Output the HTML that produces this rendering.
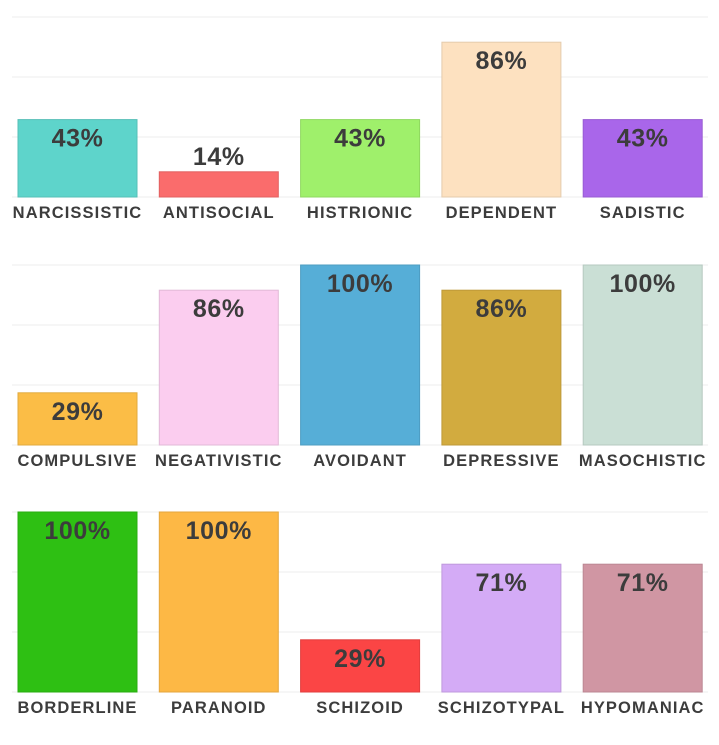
<!DOCTYPE html>
<html><head><meta charset="utf-8"><style>
body{margin:0;background:#fff;width:719px;height:745px;overflow:hidden}
svg{display:block}
</style></head><body>
<svg id="chart" width="719" height="745"></svg>
<script>
const categories=[["NARCISSISTIC","ANTISOCIAL","HISTRIONIC","DEPENDENT","SADISTIC"],["COMPULSIVE","NEGATIVISTIC","AVOIDANT","DEPRESSIVE","MASOCHISTIC"],["BORDERLINE","PARANOID","SCHIZOID","SCHIZOTYPAL","HYPOMANIAC"]];
const values=[[43,14,43,86,43],[29,86,100,86,100],[100,100,29,71,71]];
const colors=[["#5ed4cb","#fa6c6c","#9ff06b","#fde1c0","#a966ea"],["#fbbd46","#fbcdef","#56aed7","#d2ab3f","#cadfd5"],["#2ec013","#fdb845","#fb4545","#d4abf6","#d096a3"]];
const NS="http://www.w3.org/2000/svg";
const svg=document.getElementById('chart');
const baselines=[197,445,692];
const plotH=180, x0=18, step=141.3, bw=119;
function yScale(v,b){return b-v/100*plotH;}
function xScale(i){return x0+i*step;}
function mk(t,a){const e=document.createElementNS(NS,t);for(const k in a)e.setAttribute(k,a[k]);svg.appendChild(e);return e;}
function shade(hex,f){const n=parseInt(hex.slice(1),16);let r=n>>16,g=(n>>8)&255,b=n&255;r=Math.round(r*f);g=Math.round(g*f);b=Math.round(b*f);return `rgb(${r},${g},${b})`;}
baselines.forEach((b,p)=>{
  for(let k=0;k<=3;k++){
    const l=mk('line',{x1:12,x2:708,y1:b-k*60,y2:b-k*60,stroke:'#ececec','stroke-width':1});
    
    
  }
  values[p].forEach((v,i)=>{
    const x=xScale(i), y=yScale(v,b), h=b-y;
    const r=mk('rect',{x:x,y:y,width:bw,height:h,fill:colors[p][i],stroke:shade(colors[p][i],0.9),'stroke-width':1});
    
    
    const ty=h<30? y-7 : y+27;
    const t=mk('text',{x:x+bw/2,y:ty,'text-anchor':'middle','font-family':'Liberation Sans, sans-serif','font-weight':'bold','font-size':25,'letter-spacing':'0.6px',fill:'#3c3c3c'});
    t.textContent=v+'%';
    
    
    const c=mk('text',{x:x+bw/2,y:b+21,'text-anchor':'middle','font-family':'Liberation Sans, sans-serif','font-weight':'bold','font-size':16.5,'letter-spacing':'1.1px',fill:'#3c3c3c'});
    c.textContent=categories[p][i];
    
    
  });
});
</script>
</body></html>
